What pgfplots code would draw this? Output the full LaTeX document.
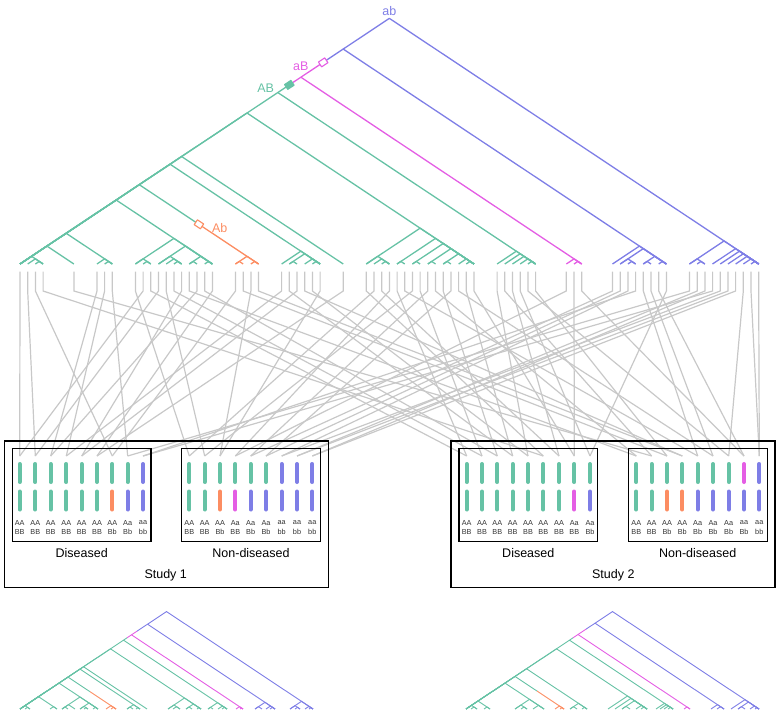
\documentclass[border=0pt]{standalone}
\usepackage{fontspec}
\setmainfont{Liberation Sans}
\usepackage{pgfplots}
\pgfplotsset{compat=1.18}
\definecolor{cG}{HTML}{66C2A5}
\definecolor{cO}{HTML}{FC8D62}
\definecolor{cP}{HTML}{E45EE4}
\definecolor{cB}{HTML}{7E7EE6}
\definecolor{cGr}{HTML}{C8C8C8}
\definecolor{cTx}{HTML}{333333}
\pgfplotsset{base/.style={scale only axis, width=780pt, height=715pt, at={(0,0)}, anchor=south west, hide axis, clip=true}}
\newcommand{\Lm}[5]{\addplot[#1] coordinates {(#2,0) (#3,#4) (#5,0)};}
\newcommand{\gl}[2]{\addplot[cGr, line width=1.2pt] coordinates {(#1,271.7) (#1,291) (#2,456)};}
\newcommand{\tb}[2]{\addplot[#1, line width=4pt, line cap=round] coordinates {(#2,464) (#2,482)};}
\newcommand{\bb}[2]{\addplot[#1, line width=4pt, line cap=round] coordinates {(#2,491.5) (#2,509.5)};}
\newcommand{\gt}[3]{\node[font=\fontsize{7.3}{8}\selectfont, text=cTx, inner sep=0pt] at (axis cs:#1,522.7) {#2};
\node[font=\fontsize{7.3}{8}\selectfont, text=cTx, inner sep=0pt] at (axis cs:#1,531.7) {#3};}
\newcommand{\bx}[4]{\addplot[black, line width=1.2pt] coordinates {(#1,#2) (#3,#2) (#3,#4) (#1,#4) (#1,#2) (#3,#2)};}
\begin{document}
\begin{tikzpicture}
% ---------------- main pixel axis ----------------
\begin{axis}[base, xmin=0, xmax=780, ymin=0, ymax=715, y dir=reverse]
\addplot[draw=none] coordinates {(0,0) (780,715)};
% grey connector lines: leaf x -> individual x
\gl{20.0}{19.7}
\gl{27.7}{35.3}
\gl{35.4}{112.3}
\gl{43.1}{543.3}
\gl{73.9}{651.7}
\gl{97.0}{50.7}
\gl{104.6}{66.3}
\gl{112.3}{127.7}
\gl{135.4}{189.3}
\gl{143.1}{19.7}
\gl{150.8}{466.7}
\gl{158.5}{35.3}
\gl{166.2}{204.7}
\gl{173.9}{482}
\gl{181.6}{81.7}
\gl{189.3}{636.3}
\gl{197.0}{50.7}
\gl{204.7}{497.3}
\gl{212.4}{97}
\gl{235.5}{112.3}
\gl{243.2}{667}
\gl{250.9}{220}
\gl{258.5}{682.3}
\gl{281.6}{66.3}
\gl{289.3}{512.7}
\gl{297.0}{81.7}
\gl{304.7}{682.3}
\gl{312.4}{528}
\gl{320.1}{220}
\gl{343.2}{97}
\gl{366.3}{543.3}
\gl{374.0}{189.3}
\gl{381.7}{559}
\gl{389.4}{235.3}
\gl{397.1}{466.7}
\gl{404.8}{697.7}
\gl{412.4}{204.7}
\gl{420.1}{482}
\gl{427.8}{250.7}
\gl{435.5}{636.3}
\gl{443.2}{497.3}
\gl{450.9}{266}
\gl{458.6}{713}
\gl{466.3}{512.7}
\gl{474.0}{574.3}
\gl{497.1}{528}
\gl{504.8}{651.7}
\gl{512.5}{559}
\gl{520.2}{590}
\gl{527.9}{728.7}
\gl{535.6}{667}
\gl{566.3}{235.3}
\gl{574.0}{574.3}
\gl{581.7}{744}
\gl{612.5}{250.7}
\gl{620.2}{266}
\gl{627.9}{281.7}
\gl{635.6}{143}
\gl{643.3}{697.7}
\gl{651.0}{713}
\gl{658.7}{744}
\gl{666.4}{590}
\gl{689.5}{127.7}
\gl{697.2}{297}
\gl{704.9}{312.3}
\gl{712.6}{143}
\gl{720.2}{281.7}
\gl{727.9}{297}
\gl{735.6}{312.3}
\gl{743.3}{728.7}
\gl{751.0}{759.3}
\gl{758.7}{759.3}
% boxes
\bx{4.7}{441}{328.3}{587.3}
\bx{12.3}{448.3}{151}{541.7}
\bx{181.7}{448.3}{320.3}{541.7}
\bx{451}{441}{775}{587.3}
\bx{459}{448.3}{597.7}{541.7}
\bx{628.7}{448.3}{767.3}{541.7}
% Study 1 diseased
\tb{cG}{19.7}\tb{cG}{35.3}\tb{cG}{50.7}\tb{cG}{66.3}\tb{cG}{81.7}\tb{cG}{97}\tb{cG}{112.3}\tb{cG}{127.7}\tb{cB}{143}
\bb{cG}{19.7}\bb{cG}{35.3}\bb{cG}{50.7}\bb{cG}{66.3}\bb{cG}{81.7}\bb{cG}{97}\bb{cO}{112.3}\bb{cB}{127.7}\bb{cB}{143}
% Study 1 non-diseased
\tb{cG}{189.3}\tb{cG}{204.7}\tb{cG}{220}\tb{cG}{235.3}\tb{cG}{250.7}\tb{cG}{266}\tb{cB}{281.7}\tb{cB}{297}\tb{cB}{312.3}
\bb{cG}{189.3}\bb{cG}{204.7}\bb{cO}{220}\bb{cP}{235.3}\bb{cB}{250.7}\bb{cB}{266}\bb{cB}{281.7}\bb{cB}{297}\bb{cB}{312.3}
% Study 2 diseased
\tb{cG}{466.7}\tb{cG}{482}\tb{cG}{497.3}\tb{cG}{512.7}\tb{cG}{528}\tb{cG}{543.3}\tb{cG}{559}\tb{cG}{574.3}\tb{cG}{590}
\bb{cG}{466.7}\bb{cG}{482}\bb{cG}{497.3}\bb{cG}{512.7}\bb{cG}{528}\bb{cG}{543.3}\bb{cG}{559}\bb{cP}{574.3}\bb{cB}{590}
% Study 2 non-diseased
\tb{cG}{636.3}\tb{cG}{651.7}\tb{cG}{667}\tb{cG}{682.3}\tb{cG}{697.7}\tb{cG}{713}\tb{cG}{728.7}\tb{cP}{744}\tb{cB}{759.3}
\bb{cG}{636.3}\bb{cG}{651.7}\bb{cO}{667}\bb{cO}{682.3}\bb{cB}{697.7}\bb{cB}{713}\bb{cB}{728.7}\bb{cB}{744}\bb{cB}{759.3}
% genotype labels
\gt{19.7}{AA}{BB}\gt{35.3}{AA}{BB}\gt{50.7}{AA}{BB}\gt{66.3}{AA}{BB}\gt{81.7}{AA}{BB}\gt{97}{AA}{BB}\gt{112.3}{AA}{Bb}\gt{127.7}{Aa}{Bb}\gt{143}{aa}{bb}
\gt{189.3}{AA}{BB}\gt{204.7}{AA}{BB}\gt{220}{AA}{Bb}\gt{235.3}{Aa}{BB}\gt{250.7}{Aa}{Bb}\gt{266}{Aa}{Bb}\gt{281.7}{aa}{bb}\gt{297}{aa}{bb}\gt{312.3}{aa}{bb}
\gt{466.7}{AA}{BB}\gt{482}{AA}{BB}\gt{497.3}{AA}{BB}\gt{512.7}{AA}{BB}\gt{528}{AA}{BB}\gt{543.3}{AA}{BB}\gt{559}{AA}{BB}\gt{574.3}{Aa}{BB}\gt{590}{Aa}{Bb}
\gt{636.3}{AA}{BB}\gt{651.7}{AA}{BB}\gt{667}{AA}{Bb}\gt{682.3}{AA}{Bb}\gt{697.7}{Aa}{Bb}\gt{713}{Aa}{Bb}\gt{728.7}{Aa}{Bb}\gt{744}{aa}{Bb}\gt{759.3}{aa}{bb}
% group and study labels
\node[font=\fontsize{12.5}{14}\selectfont] at (axis cs:81.7,552.7) {Diseased};
\node[font=\fontsize{12.5}{14}\selectfont] at (axis cs:251,552.7) {Non-diseased};
\node[font=\fontsize{12.5}{14}\selectfont] at (axis cs:165.7,575.7) {Study 1};
\node[font=\fontsize{12.5}{14}\selectfont] at (axis cs:528.3,552.7) {Diseased};
\node[font=\fontsize{12.5}{14}\selectfont] at (axis cs:697.7,552.7) {Non-diseased};
\node[font=\fontsize{12.5}{14}\selectfont] at (axis cs:613.3,575.7) {Study 2};
% haplotype labels on tree
\node[text=cB, font=\fontsize{12.5}{14}\selectfont] at (axis cs:389.3,11.5) {ab};
\node[text=cP, font=\fontsize{12.5}{14}\selectfont] at (axis cs:300.8,66.7) {aB};
\node[text=cG, font=\fontsize{12.5}{14}\selectfont] at (axis cs:265.7,88) {AB};
\node[text=cO, font=\fontsize{12.5}{14}\selectfont] at (axis cs:219.8,228.3) {Ab};
\end{axis}
% ---------------- big tree (leaf-index units) ----------------
\begin{axis}[base, xmin=-2.5991, xmax=98.7654, ymin=-88.138, ymax=51.593,
  every axis plot/.append style={line width=1.3pt, line join=round}]
% blue top
\addplot[cB] coordinates {(96,0) (48,48) (42,42) (84,0)};
\addplot[cB] coordinates {(42,42) (39.4,39.4)};
\Lm{cB}{77}{80.5}{3.5}{84}\Lm{cB}{78}{81}{3}{84}\Lm{cB}{78}{79}{1}{80}\Lm{cB}{79}{79.5}{0.5}{80}
\Lm{cB}{81}{82.5}{1.5}{84}\Lm{cB}{81}{81.5}{0.5}{82}\Lm{cB}{83}{83.5}{0.5}{84}
\Lm{cB}{87}{91.5}{4.5}{96}\Lm{cB}{87}{88}{1}{89}\Lm{cB}{88}{88.5}{0.5}{89}\Lm{cB}{90}{93}{3}{96}
\Lm{cB}{91}{93.5}{2.5}{96}\Lm{cB}{92}{94}{2}{96}\Lm{cB}{93}{94.5}{1.5}{96}\Lm{cB}{94}{95}{1}{96}\Lm{cB}{95}{95.5}{0.5}{96}
% pink
\addplot[cP] coordinates {(39.4,39.4) (36.5,36.5) (35,35)};
\addplot[cP] coordinates {(36.5,36.5) (73,0)};
\Lm{cP}{71}{72}{1}{73}\Lm{cP}{72}{72.5}{0.5}{73}
% green
\addplot[cG] coordinates {(35,35) (33.5,33.5)};
\Lm{cG}{0}{33.5}{33.5}{67}\Lm{cG}{0}{29.5}{29.5}{59}\Lm{cG}{0}{21}{21}{42}\Lm{cG}{0}{19.5}{19.5}{39}
\addplot[cG] coordinates {(0,0) (15.5,15.5) (23.25,7.75)};
\Lm{cG}{0}{12.5}{12.5}{25}\Lm{cG}{0}{6}{6}{12}\Lm{cG}{0}{3.5}{3.5}{7}\Lm{cG}{0}{1.5}{1.5}{3}
\Lm{cG}{1}{2}{1}{3}\Lm{cG}{2}{2.5}{0.5}{3}
\Lm{cG}{10}{11}{1}{12}\Lm{cG}{11}{11.5}{0.5}{12}
\Lm{cG}{15}{20}{5}{25}\Lm{cG}{15}{16}{1}{17}\Lm{cG}{16}{16.5}{0.5}{17}\Lm{cG}{18}{21.5}{3.5}{25}
\Lm{cG}{18}{19.5}{1.5}{21}\Lm{cG}{19}{20}{1}{21}\Lm{cG}{20}{20.5}{0.5}{21}
\Lm{cG}{22}{23.5}{1.5}{25}\Lm{cG}{22}{22.5}{0.5}{23}\Lm{cG}{24}{24.5}{0.5}{25}
\Lm{cG}{34}{36.5}{2.5}{39}\Lm{cG}{35}{37}{2}{39}\Lm{cG}{35}{35.5}{0.5}{36}\Lm{cG}{37}{38}{1}{39}\Lm{cG}{38}{38.5}{0.5}{39}
\Lm{cG}{45}{52}{7}{59}\Lm{cG}{45}{46.5}{1.5}{48}\Lm{cG}{46}{47}{1}{48}\Lm{cG}{47}{47.5}{0.5}{48}
\Lm{cG}{49}{54}{5}{59}\Lm{cG}{49}{49.5}{0.5}{50}\Lm{cG}{51}{55}{4}{59}\Lm{cG}{51}{51.5}{0.5}{52}
\Lm{cG}{53}{56}{3}{59}\Lm{cG}{53}{53.5}{0.5}{54}\Lm{cG}{55}{57}{2}{59}\Lm{cG}{55}{55.5}{0.5}{56}
\Lm{cG}{57}{58}{1}{59}\Lm{cG}{58}{58.5}{0.5}{59}
\Lm{cG}{62}{64.5}{2.5}{67}\Lm{cG}{63}{65}{2}{67}\Lm{cG}{64}{65.5}{1.5}{67}\Lm{cG}{65}{66}{1}{67}\Lm{cG}{66}{66.5}{0.5}{67}
% orange
\addplot[cO] coordinates {(23.25,7.75) (31,0)};
\Lm{cO}{28}{29.5}{1.5}{31}\Lm{cO}{28}{28.5}{0.5}{29}\Lm{cO}{30}{30.5}{0.5}{31}
% mutation marks
\addplot[only marks, mark=square*, mark size=2.9pt, mark options={draw=cP, fill=white, line width=1.1pt, rotate=33.6, xscale=1.3}] coordinates {(39.4,39.4)};
\addplot[only marks, mark=square*, mark size=2.9pt, mark options={draw=cG, fill=cG, line width=1.1pt, rotate=33.6, xscale=1.3}] coordinates {(35,35)};
\addplot[only marks, mark=square*, mark size=2.9pt, mark options={draw=cO, fill=white, line width=1.1pt, rotate=-33.6, xscale=1.3}] coordinates {(23.25,7.75)};
\end{axis}
% ---------------- small study trees (pixel x, height units) ----------------
\begin{axis}[base, xmin=0, xmax=780, ymin=-9.023, ymax=1066.17,
  every axis plot/.append style={line width=0.9pt, line join=round}]
% left tree
\addplot[cB] coordinates {(313,0) (166.5,146.5) (147.5,127.5) (275,0)};
\addplot[cB] coordinates {(147.5,127.5) (137,117)};
\Lm{cB}{290}{301.5}{11.5}{313}\Lm{cB}{290}{295}{5}{300}\Lm{cB}{295}{297.5}{2.5}{300}\Lm{cB}{305}{309}{4}{313}\Lm{cB}{309}{311}{2}{313}
\Lm{cB}{255}{265}{10}{275}\Lm{cB}{255}{258.5}{3.5}{262}\Lm{cB}{266}{270.5}{4.5}{275}\Lm{cB}{270}{272.5}{2.5}{275}
\addplot[cP] coordinates {(137,117) (131.5,111.5) (127,107)};
\addplot[cP] coordinates {(131.5,111.5) (243,0)};
\Lm{cP}{236}{239.5}{3.5}{243}\Lm{cP}{240}{241.5}{1.5}{243}
\addplot[cG] coordinates {(127,107) (123.5,103.5)};
\Lm{cG}{20}{123.5}{103.5}{227}\Lm{cG}{208}{217.5}{9.5}{227}\Lm{cG}{208}{210.5}{2.5}{213}\Lm{cG}{218}{222.5}{4.5}{227}\Lm{cG}{222}{224.5}{2.5}{227}
\Lm{cG}{20}{110.5}{90.5}{201}
\Lm{cG}{168}{184.5}{16.5}{201}\Lm{cG}{168}{174}{6}{180}\Lm{cG}{173}{176.5}{3.5}{180}\Lm{cG}{186}{193.5}{7.5}{201}\Lm{cG}{186}{189}{3}{192}\Lm{cG}{197}{199}{2}{201}
\Lm{cG}{20}{83.5}{63.5}{147}\Lm{cG}{20}{80}{60}{140}
\Lm{cG}{127}{133.5}{6.5}{140}\Lm{cG}{127}{130}{3}{133}\Lm{cG}{136}{138}{2}{140}
\addplot[cG] coordinates {(20,0) (68,48) (90,26)};
\addplot[cO] coordinates {(90,26) (116,0)};
\Lm{cO}{106}{111}{5}{116}\Lm{cO}{111}{113.5}{2.5}{116}
\Lm{cG}{20}{59}{39}{98}
\Lm{cG}{62}{80}{18}{98}\Lm{cG}{62}{68.5}{6.5}{75}\Lm{cG}{62}{65}{3}{68}\Lm{cG}{80}{89}{9}{98}\Lm{cG}{80}{84}{4}{88}\Lm{cG}{84}{86}{2}{88}\Lm{cG}{93}{95.5}{2.5}{98}
\Lm{cG}{20}{38.5}{18.5}{57}\Lm{cG}{50}{53.5}{3.5}{57}\Lm{cG}{20}{25}{5}{30}\Lm{cG}{25}{27.5}{2.5}{30}
% right tree
\addplot[cB] coordinates {(759,0) (612.5,146.5) (595,129) (724,0)};
\addplot[cB] coordinates {(595,129) (586,120)};
\Lm{cB}{731}{745}{14}{759}\Lm{cB}{738}{748.5}{10.5}{759}\Lm{cB}{738}{741.5}{3.5}{745}\Lm{cB}{750}{754.5}{4.5}{759}\Lm{cB}{755}{757}{2}{759}
\Lm{cB}{711}{717.5}{6.5}{724}\Lm{cB}{717}{720.5}{3.5}{724}
\addplot[cP] coordinates {(586,120) (578,112) (573,107)};
\addplot[cP] coordinates {(578,112) (690,0)};
\Lm{cP}{684}{687}{3}{690}
\addplot[cG] coordinates {(573,107) (569.5,103.5)};
\Lm{cG}{466}{569.5}{103.5}{673}
\Lm{cG}{656}{664.5}{8.5}{673}\Lm{cG}{660}{666.5}{6.5}{673}\Lm{cG}{664}{668.5}{4.5}{673}\Lm{cG}{668}{670.5}{2.5}{673}
\Lm{cG}{466}{556.5}{90.5}{647}
\Lm{cG}{608}{627.5}{19.5}{647}\Lm{cG}{615}{631}{16}{647}\Lm{cG}{622}{634.5}{12.5}{647}\Lm{cG}{622}{626}{4}{630}\Lm{cG}{636}{641.5}{5.5}{647}\Lm{cG}{641}{644}{3}{647}
\Lm{cG}{466}{526.5}{60.5}{587}
\Lm{cG}{570}{578.5}{8.5}{587}\Lm{cG}{570}{573.5}{3.5}{577}\Lm{cG}{582}{584.5}{2.5}{587}
\addplot[cG] coordinates {(466,0) (515,49) (537,27)};
\addplot[cO] coordinates {(537,27) (564,0)};
\Lm{cO}{555}{559.5}{4.5}{564}\Lm{cO}{560}{562}{2}{564}
\Lm{cG}{466}{505}{39}{544}
\Lm{cG}{515}{529.5}{14.5}{544}\Lm{cG}{515}{521}{6}{527}\Lm{cG}{521}{524}{3}{527}\Lm{cG}{533}{538.5}{5.5}{544}
\Lm{cG}{466}{478}{12}{490}\Lm{cG}{466}{471.5}{5.5}{477}\Lm{cG}{471}{474}{3}{477}\Lm{cG}{484}{487}{3}{490}
\end{axis}
\end{tikzpicture}
\end{document}
